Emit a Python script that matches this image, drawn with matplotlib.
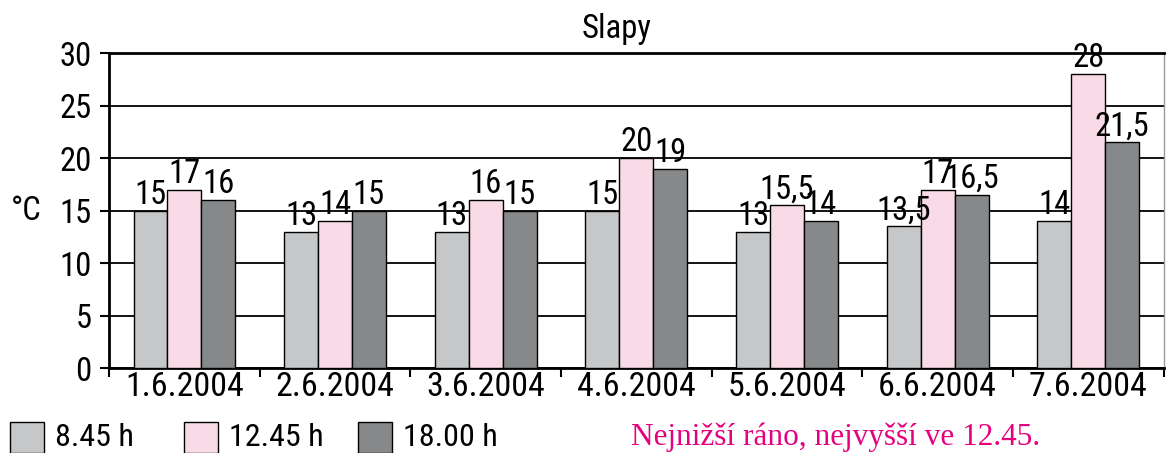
import numpy as np
import matplotlib.pyplot as plt
from matplotlib.patches import Rectangle

days = ["1.6.2004", "2.6.2004", "3.6.2004", "4.6.2004",
        "5.6.2004", "6.6.2004", "7.6.2004"]
series_names = ["8.45 h", "12.45 h", "18.00 h"]
morning = [15, 13, 13, 15, 13, 13.5, 14]
noon = [17, 14, 16, 20, 15.5, 17, 28]
evening = [16, 15, 15, 19, 14, 16.5, 21.5]
colors = ["#c6c7c9", "#f9dbe7", "#878889"]

narrow = ["Roboto Condensed", "Archivo Narrow", "DejaVu Sans"]


def fmt(v):
    s = "%g" % v
    return s.replace(".", ",")


fig = plt.figure(figsize=(11.66, 4.53), dpi=100)
ax = fig.add_axes([0.0935, 0.1876, 0.9045, 0.6954])

x = np.arange(len(days))
w = 0.225
for i, vals in enumerate([morning, noon, evening]):
    pos = x + (i - 1) * w
    ax.bar(pos, vals, w, color=colors[i], edgecolor="black", linewidth=1, zorder=3)
    for p, v in zip(pos, vals):
        ax.annotate(fmt(v), (p, v), xytext=(0, 5), textcoords="offset points",
                    ha="center", va="baseline", fontsize=23.5, family=narrow, zorder=4)

ax.set_xlim(-0.5, len(days) - 0.5)
ax.set_ylim(0, 30)
ax.set_yticks(range(0, 31, 5))
ax.yaxis.grid(True, color="black", linewidth=1.3, zorder=0)
ax.set_axisbelow(True)

ax.set_xticks(x)
ax.set_xticklabels(days, family=narrow, fontsize=24.5)
ax.set_xticks(np.arange(len(days) + 1) - 0.5, minor=True)
ax.tick_params(axis="x", which="major", length=0, pad=2)
ax.tick_params(axis="x", which="minor", length=6.5, width=1.5, direction="out")
ax.tick_params(axis="y", length=6.5, width=1.5, direction="out", pad=6)
for lab in ax.get_yticklabels():
    lab.set_family(narrow)
    lab.set_fontsize(23.5)

ax.spines["left"].set_linewidth(2)
ax.spines["bottom"].set_linewidth(2)
ax.spines["top"].set_linewidth(2)
ax.spines["right"].set_color("#999999")
ax.spines["right"].set_linewidth(1)

ax.set_title("Slapy", family=narrow, fontsize=23.5, pad=11, x=0.4815)
fig.text(0.009, 0.534, "°C", family=narrow, fontsize=23.5, ha="left", va="center")

# legend drawn as simple squares with labels
leg_x = [10, 184, 358]
for i, name in enumerate(series_names):
    fig.add_artist(Rectangle((leg_x[i] / 1166, 0.0), 34 / 1166, 31 / 453,
                             transform=fig.transFigure, facecolor=colors[i],
                             edgecolor="black", linewidth=1))
    fig.text((leg_x[i] + 45) / 1166, 0.035, name, family=narrow, fontsize=23,
             ha="left", va="center")

fig.text(631 / 1166, 0.035, "Nejnižší ráno, nejvyšší ve 12.45.", family="Liberation Serif",
         fontsize=22.5, color="#e5007e", ha="left", va="center")

fig.savefig("out.png", dpi=100)
